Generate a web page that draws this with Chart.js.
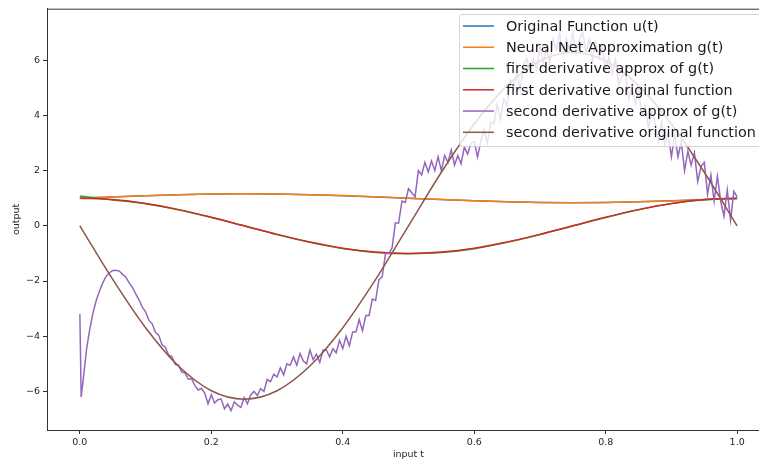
<!DOCTYPE html>
<html><head><meta charset="utf-8">
<script src="https://cdn.jsdelivr.net/npm/chart.js@4/dist/chart.umd.min.js"></script>
<style>html,body{margin:0;padding:0;overflow:hidden;background:#fff;width:759px;height:459px}
canvas{display:block}</style></head>
<body><canvas id="c" width="780" height="459" style="width:780px;height:459px"></canvas>
<script>
const seriesLabels = ["Original Function u(t)","Neural Net Approximation g(t)","first derivative approx of g(t)","first derivative original function","second derivative approx of g(t)","second derivative original function"];
const seriesColors = ["#1f77b4","#ff7f0e","#2ca02c","#d62728","#9467bd","#8c564b"];
const xTickValues = [0,0.2,0.4,0.6,0.8,1.0];
const yTickValues = [-6,-4,-2,0,2,4,6];

const tSmooth = [0,0.05,0.1,0.15,0.2,0.25,0.3,0.35,0.4,0.45,0.5,0.55,0.6,0.65,0.7,0.75,0.8,0.85,0.9,0.95,1.0];
const uVals = [1.000,1.049,1.094,1.129,1.151,1.159,1.151,1.129,1.094,1.049,1.000,0.951,0.906,0.871,0.849,0.841,0.849,0.871,0.906,0.951,1.000];
const gVals = [1.000,1.048,1.093,1.128,1.151,1.159,1.152,1.130,1.095,1.050,1.001,0.953,0.907,0.871,0.849,0.841,0.848,0.869,0.903,0.948,0.995];
const gPrimeVals = [1.08,0.94,0.80,0.585,0.305,-0.005,-0.315,-0.60,-0.825,-0.965,-1.01,-0.97,-0.83,-0.60,-0.315,-0.005,0.305,0.585,0.805,0.945,0.99];
const uPrimeVals = [1.000,0.951,0.809,0.588,0.309,0.000,-0.309,-0.588,-0.809,-0.951,-1.000,-0.951,-0.809,-0.588,-0.309,0.000,0.309,0.588,0.809,0.951,1.000];
const uSecondVals = [0,-1.942,-3.693,-5.083,-5.976,-6.283,-5.976,-5.083,-3.693,-1.942,0,1.942,3.693,5.083,5.976,6.283,5.976,5.083,3.693,1.942,0];

const tNoisy = [0,0.002,0.005,0.01,0.015,0.02,0.025,0.03,0.035,0.04,0.045,
0.05,0.055,0.06,0.065,0.07,0.075,0.08,0.085,0.09,0.095,
0.1,0.105,0.11,0.115,0.12,0.125,0.13,0.135,0.14,0.145,
0.15,0.155,0.16,0.165,0.17,0.175,0.18,0.185,0.19,0.195,
0.2,0.205,0.21,0.215,0.22,0.225,0.23,0.235,0.24,0.245,
0.25,0.255,0.26,0.265,0.27,0.275,0.28,0.285,0.29,0.295,
0.3,0.305,0.31,0.315,0.32,0.325,0.33,0.335,0.34,0.345,
0.35,0.355,0.36,0.365,0.37,0.375,0.38,0.385,0.39,0.395,
0.4,0.405,0.41,0.415,0.42,0.425,0.43,0.435,0.44,0.445,
0.45,0.455,0.46,0.465,0.47,0.475,0.48,0.485,0.49,0.495,
0.5,0.505,0.51,0.515,0.52,0.525,0.53,0.535,0.54,0.545,
0.55,0.555,0.56,0.565,0.57,0.575,0.58,0.585,0.59,0.595,
0.6,0.605,0.61,0.615,0.62,0.625,0.63,0.635,0.64,0.645,
0.65,0.655,0.66,0.665,0.67,0.675,0.68,0.685,0.69,0.695,
0.7,0.705,0.71,0.715,0.72,0.725,0.73,0.735,0.74,0.745,
0.75,0.755,0.76,0.765,0.77,0.775,0.78,0.785,0.79,0.795,
0.8,0.805,0.81,0.815,0.82,0.825,0.83,0.835,0.84,0.845,
0.85,0.855,0.86,0.865,0.87,0.875,0.88,0.885,0.89,0.895,
0.9,0.905,0.91,0.915,0.92,0.925,0.93,0.935,0.94,0.945,
0.95,0.955,0.96,0.965,0.97,0.975,0.98,0.985,0.99,0.995,
1.0];
const gSecondVals = [-3.2,-6.2,-5.6,-4.5,-3.75,-3.15,-2.7,-2.35,-2.06,-1.83,-1.70,
-1.62,-1.61,-1.64,-1.76,-1.86,-2.07,-2.23,-2.47,-2.68,-2.95,
-3.12,-3.42,-3.55,-3.86,-3.97,-4.31,-4.40,-4.68,-4.74,-5.02,
-5.05,-5.30,-5.33,-5.56,-5.54,-5.79,-5.95,-5.89,-6.07,-6.45,
-6.12,-6.42,-6.30,-6.28,-6.63,-6.46,-6.70,-6.38,-6.50,-6.58,
-6.23,-6.45,-6.12,-6.00,-6.15,-5.90,-6.00,-5.57,-5.65,-5.38,
-5.48,-5.15,-5.40,-5.00,-5.05,-4.75,-5.05,-4.63,-4.90,-5.00,
-4.50,-4.85,-4.65,-4.95,-4.50,-4.50,-4.75,-4.45,-4.60,-4.15,
-4.45,-4.00,-4.35,-3.85,-3.85,-3.40,-3.80,-3.25,-3.25,-2.65,
-2.70,-1.95,-1.85,-1.00,-1.00,-0.80,0.10,0.10,0.90,0.85,
1.35,1.20,1.05,2.00,1.85,2.30,1.95,2.35,2.00,2.50,
2.00,2.55,2.30,2.75,2.20,2.55,2.25,2.85,2.60,3.00,
3.05,2.50,3.05,3.50,3.00,3.75,3.70,4.40,3.85,4.60,
4.35,5.25,4.95,5.55,4.95,5.80,6.07,5.55,6.05,5.65,
6.52,5.90,6.43,5.90,6.77,6.38,6.97,6.21,6.80,6.37,
6.99,6.25,6.75,7.02,6.28,6.77,6.00,6.65,6.10,6.52,
5.60,6.15,5.52,6.03,5.10,5.40,5.55,4.60,5.10,4.40,
4.92,4.00,4.38,3.55,4.12,3.75,3.08,3.75,2.95,3.35,
2.50,3.30,2.50,3.05,2.00,2.70,2.20,2.65,1.60,2.15,
2.30,1.15,1.85,0.90,1.80,0.90,0.35,1.30,0.20,1.25,
1.05];

function pts(ts, vs){ return ts.map((t,i)=>({x:t,y:vs[i]})); }
const seriesData = [pts(tSmooth,uVals),pts(tSmooth,gVals),pts(tSmooth,gPrimeVals),pts(tSmooth,uPrimeVals),pts(tNoisy,gSecondVals),pts(tSmooth,uSecondVals)];

const FONT = '"DejaVu Sans", sans-serif';

const mplDecor = {
  id:'mplDecor',
  afterDraw(chart){
    const ctx = chart.ctx, a = chart.chartArea;
    ctx.save();
    ctx.strokeStyle = '#333'; ctx.lineWidth = 1;
    ctx.beginPath(); ctx.moveTo(a.left, a.top+0.5); ctx.lineTo(a.right, a.top+0.5);
    ctx.moveTo(a.right-0.5, a.top); ctx.lineTo(a.right-0.5, a.bottom); ctx.stroke();
    const x0 = 459.5, y0 = 14.5, w = 330, h = 132;
    ctx.beginPath(); ctx.roundRect(x0, y0, w, h, 3);
    ctx.fillStyle = 'rgba(255,255,255,0.8)'; ctx.fill();
    ctx.strokeStyle = 'rgba(204,204,204,0.8)'; ctx.lineWidth = 1; ctx.stroke();
    ctx.font = '14.4px ' + FONT; ctx.textBaseline = 'middle'; ctx.textAlign = 'left';
    seriesLabels.forEach((lab,i)=>{
      const y = 26 + i*21.26;
      ctx.strokeStyle = seriesColors[i]; ctx.lineWidth = 1.5;
      ctx.beginPath(); ctx.moveTo(463, y); ctx.lineTo(494, y); ctx.stroke();
      ctx.fillStyle = '#1a1a1a'; ctx.fillText(lab, 506, y+1);
    });
    ctx.restore();
  }
};

new Chart(document.getElementById('c'), {
  type:'line',
  data:{ datasets: seriesData.map((d,i)=>({
    label: seriesLabels[i], data: d, borderColor: seriesColors[i], backgroundColor: seriesColors[i],
    borderWidth: 1.5, pointRadius: 0, fill:false, order: 6-i,
    cubicInterpolationMode: i===4 ? 'default' : 'monotone', tension: 0
  }))},
  options:{
    responsive:false, animation:false, events:[],
    layout:{padding:{left:0,top:7,right:10,bottom:0}},
    plugins:{legend:{display:false}, tooltip:{enabled:false}},
    scales:{
      x:{ type:'linear', min:-0.05, max:1.05,
        afterBuildTicks(s){ s.ticks = xTickValues.map(v=>({value:v})); },
        afterFit(s){ s.height = 29; },
        grid:{display:true, drawOnChartArea:false, drawTicks:true, tickLength:4, color:'#333'},
        border:{display:true, color:'#333', width:1},
        ticks:{ padding:3, color:'#262626', font:{family:FONT,size:9.5}, maxRotation:0, autoSkip:false,
          callback:(v)=>Number(v).toFixed(1) },
        title:{display:true, text:'input t', color:'#262626', font:{family:FONT,size:9.5,lineHeight:1}, padding:{top:0,bottom:0}}
      },
      y:{ type:'linear', min:-7.4, max:7.87,
        afterBuildTicks(s){ s.ticks = yTickValues.map(v=>({value:v})); },
        afterFit(s){ s.width = 47; },
        grid:{display:true, drawOnChartArea:false, drawTicks:true, tickLength:4, color:'#333'},
        border:{display:true, color:'#333', width:1},
        ticks:{ padding:3, color:'#262626', font:{family:FONT,size:9.5}, autoSkip:false,
          callback:(v)=> (v<0 ? '\u2212' + Math.abs(v) : String(v)) },
        title:{display:true, text:'output', color:'#262626', font:{family:FONT,size:9.5,lineHeight:1}, padding:{top:12,bottom:0}}
      }
    }
  },
  plugins:[mplDecor]
});
</script>
</body></html>
